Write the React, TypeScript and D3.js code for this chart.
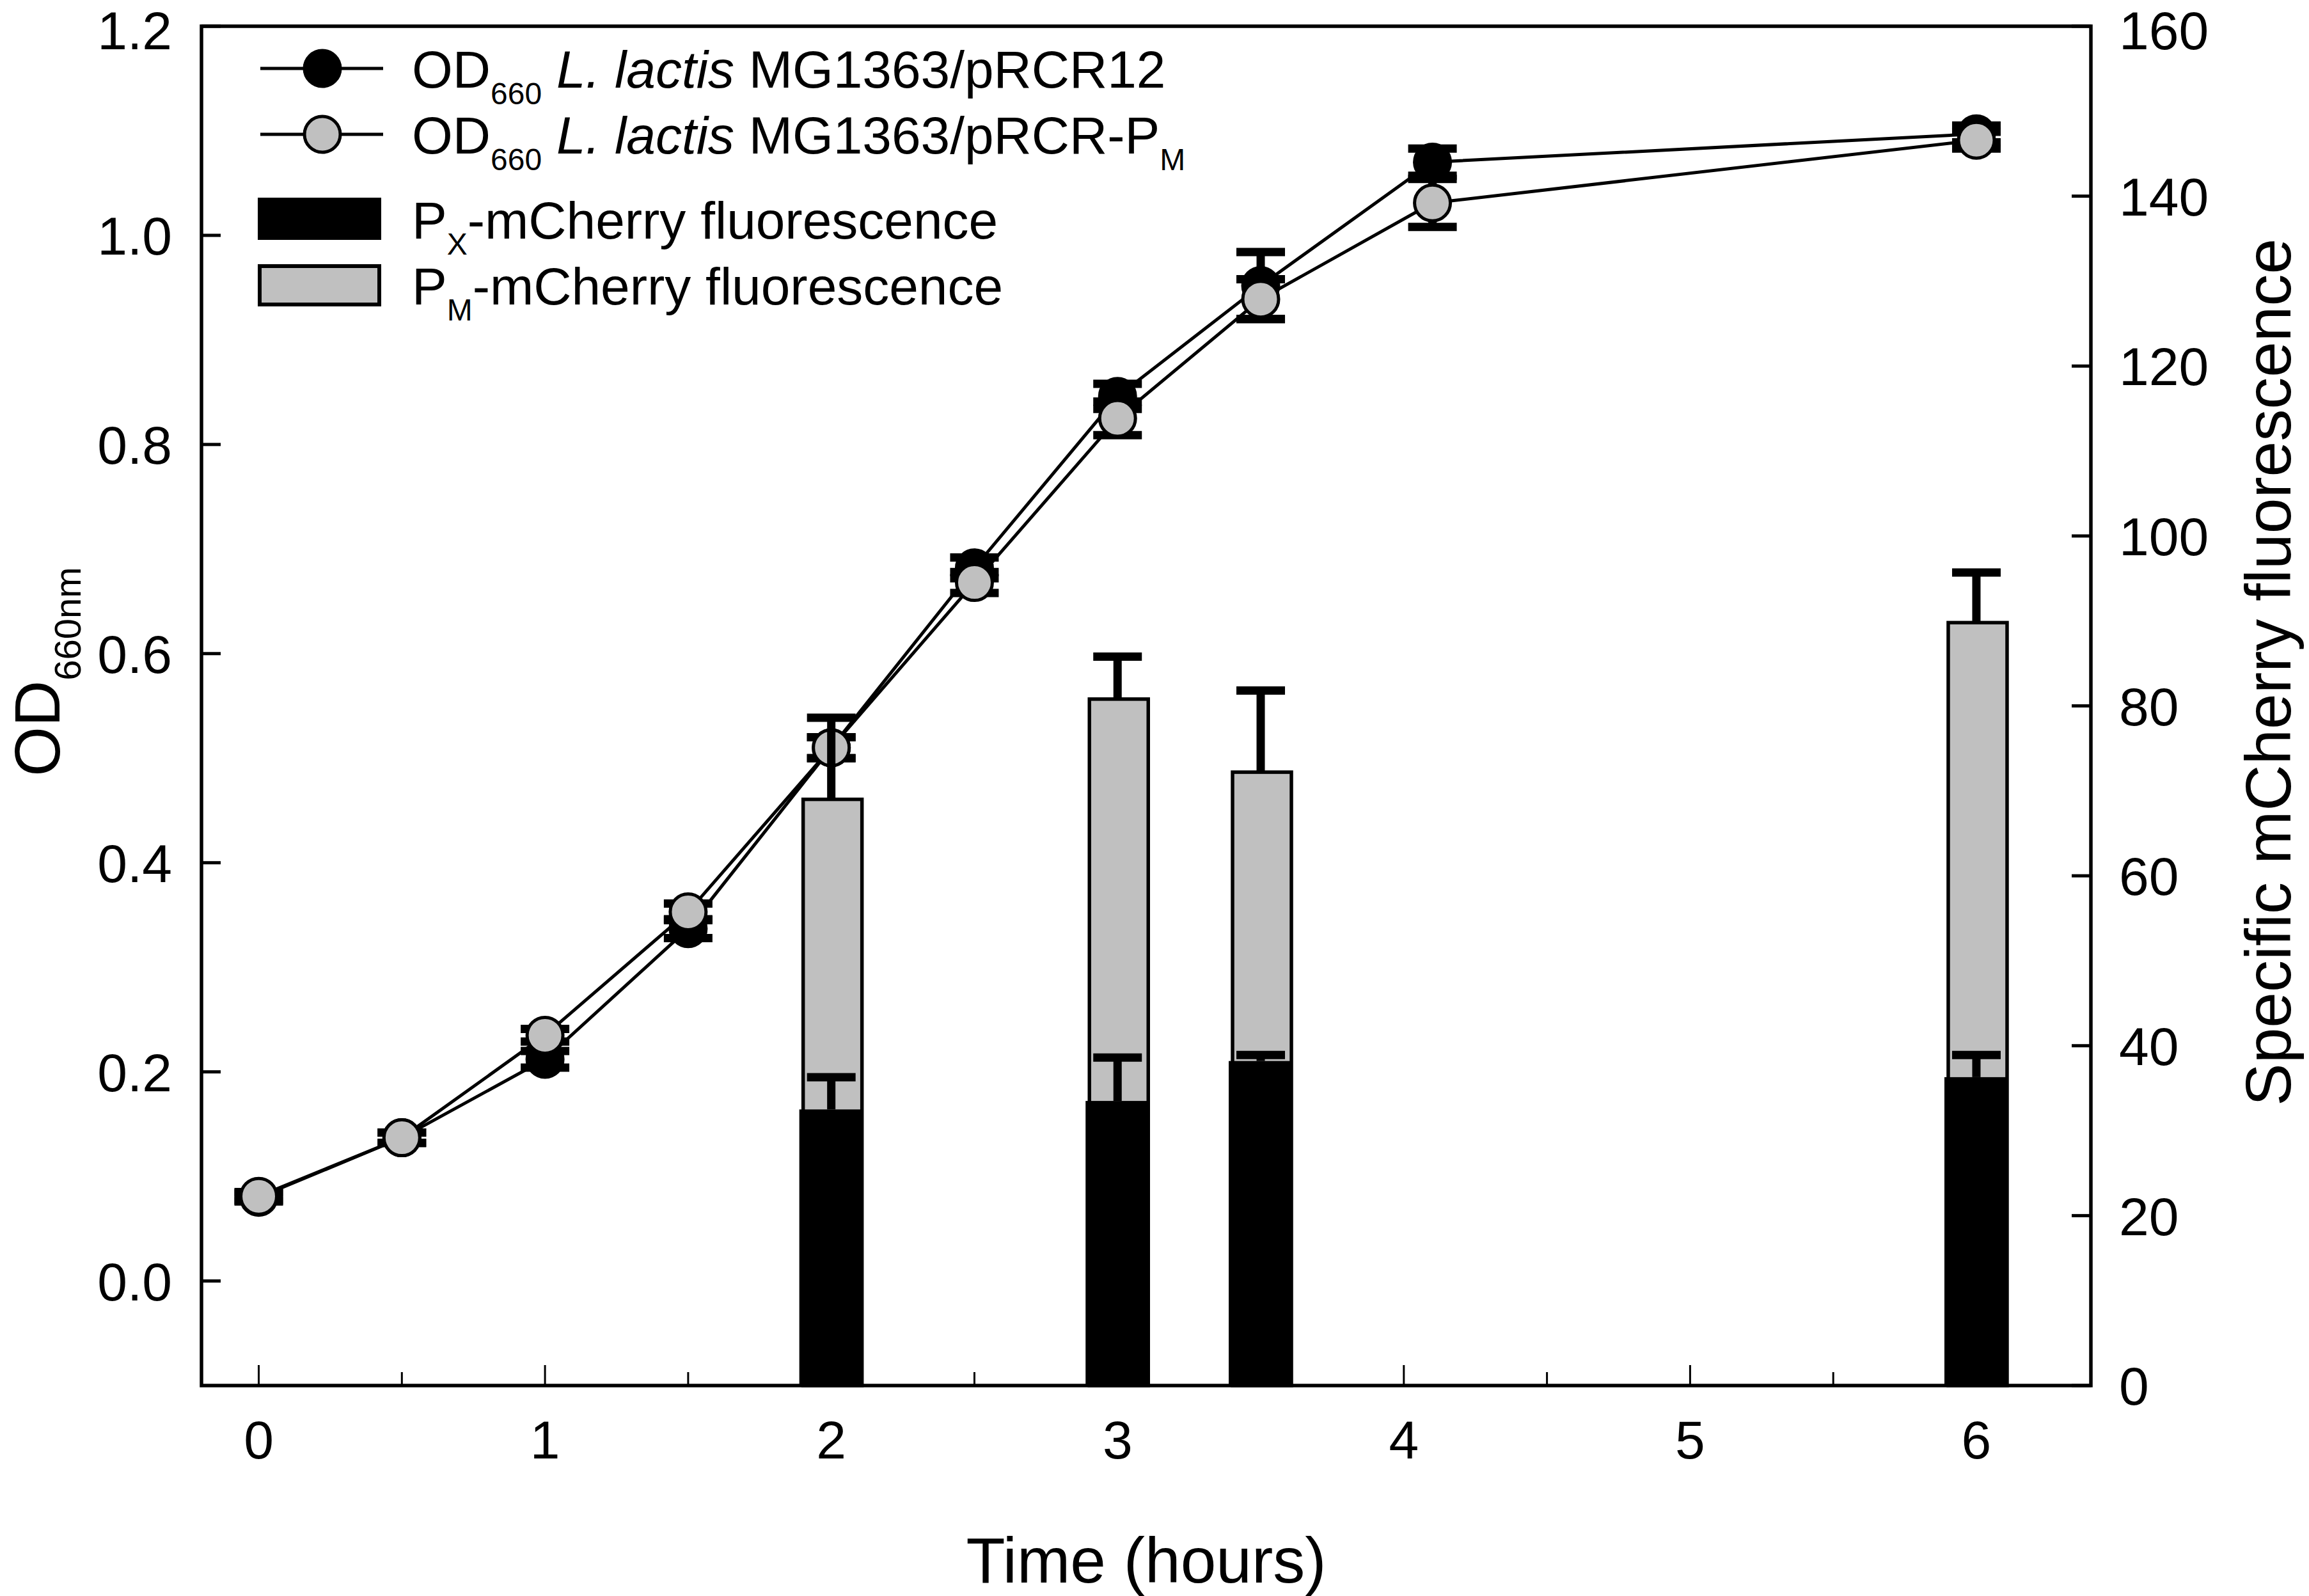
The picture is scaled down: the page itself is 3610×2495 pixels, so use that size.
import React from "react";
import * as d3 from "d3";

// ---- data ----
const times = [0, 0.5, 1, 1.5, 2, 2.5, 3, 3.5, 4.1, 6];
const odPRCR12 = [0.08, 0.137, 0.212, 0.337, 0.51, 0.682, 0.846, 0.952, 1.07, 1.097];
const odPRCR12Err = [0.004, 0.005, 0.008, 0.009, 0.01, 0.01, 0.012, 0.032, 0.013, 0.008];
const odPRCRPM = [0.081, 0.137, 0.235, 0.353, 0.51, 0.668, 0.825, 0.939, 1.031, 1.091];
const odPRCRPMErr = [0.004, 0.005, 0.006, 0.008, 0.01, 0.01, 0.016, 0.019, 0.023, 0.008];

const barTimes = [2, 3, 3.5, 6];
const pxFluor = [32.5, 33.5, 38.2, 36.3];
const pxFluorErr = [3.8, 5.1, 0.7, 2.6];
const pmFluor = [69.0, 80.8, 72.2, 89.8];
const pmFluorErr = [9.6, 5.0, 9.6, 5.9];

const xMajorTicks = [0, 1, 2, 3, 4, 5, 6];
const xMinorTicks = [0.5, 1.5, 2.5, 3.5, 4.5, 5.5];
const odTicks = [0, 0.2, 0.4, 0.6, 0.8, 1.0, 1.2];
const fluorTicks = [0, 20, 40, 60, 80, 100, 120, 140, 160];

const W = 3610;
const H = 2495;
const FONT = "'Liberation Sans', Arial, Helvetica, sans-serif";

const left = 315;
const right = 3269;
const top = 41;
const bottom = 2166;

const x = d3.scaleLinear().domain([-0.2, 6.4]).range([left, right]);
const yOD = d3.scaleLinear().domain([-0.1, 1.2]).range([bottom, top]);
const yF = d3.scaleLinear().domain([0, 160]).range([bottom, top]);

const R = 28;
const CAP = 38;
const ERR_W = 13;

// keep the top tick labels inside the page
const labelY = (y: number) => Math.max(y, 47);

type Series = { values: number[]; errs: number[]; fill: string };

const series: Series[] = [
    { values: odPRCR12, errs: odPRCR12Err, fill: "#000000" },
    { values: odPRCRPM, errs: odPRCRPMErr, fill: "#c0c0c0" },
];

// one-sided error bar (used on top of the bars)
const ErrBar: React.FC<{ cx: number; y0: number; y1: number }> = ({ cx, y0, y1 }) => (
    <g stroke="#000" strokeWidth={ERR_W}>
        <line x1={cx} x2={cx} y1={y0} y2={y1} />
        <line x1={cx - CAP} x2={cx + CAP} y1={y1} y2={y1} />
    </g>
);

const App: React.FC = () => {
    const line = d3
        .line<number>()
        .x((_, i) => x(times[i]))
        .y((d) => yOD(d));

    const pxW = 100;
    const pmW = 92;

    return (
        <svg
            width={W}
            height={H}
            style={{ position: "absolute", left: 0, top: 0, background: "#fff" }}
            fontFamily={FONT}
        >
            <rect x={0} y={0} width={W} height={H} fill="#fff" />

            {/* growth curves */}
            {series.map((s, si) => (
                <g key={si}>
                    {s.values.map((v, i) => (
                        <g key={i} stroke="#000" strokeWidth={ERR_W}>
                            <line x1={x(times[i])} x2={x(times[i])} y1={yOD(v - s.errs[i])} y2={yOD(v + s.errs[i])} />
                            <line x1={x(times[i]) - CAP} x2={x(times[i]) + CAP} y1={yOD(v + s.errs[i])} y2={yOD(v + s.errs[i])} />
                            <line x1={x(times[i]) - CAP} x2={x(times[i]) + CAP} y1={yOD(v - s.errs[i])} y2={yOD(v - s.errs[i])} />
                        </g>
                    ))}
                    <path d={line(s.values) ?? ""} fill="none" stroke="#000" strokeWidth={5} />
                    {s.values.map((v, i) => (
                        <circle key={i} cx={x(times[i])} cy={yOD(v)} r={R} fill={s.fill} stroke="#000" strokeWidth={5} />
                    ))}
                </g>
            ))}

            {/* fluorescence bars */}
            {barTimes.map((t, i) => (
                <g key={t}>
                    <rect
                        x={x(t) - pmW / 2 + 2}
                        y={yF(pmFluor[i])}
                        width={pmW}
                        height={yF(0) - yF(pmFluor[i])}
                        fill="#c0c0c0"
                        stroke="#000"
                        strokeWidth={5.5}
                    />
                    <ErrBar cx={x(t)} y0={yF(pmFluor[i])} y1={yF(pmFluor[i] + pmFluorErr[i])} />
                    <rect
                        x={x(t) - pxW / 2}
                        y={yF(pxFluor[i])}
                        width={pxW}
                        height={yF(0) - yF(pxFluor[i])}
                        fill="#000"
                    />
                    <ErrBar cx={x(t)} y0={yF(pxFluor[i])} y1={yF(pxFluor[i] + pxFluorErr[i])} />
                </g>
            ))}

            {/* x ticks (inward) */}
            {xMajorTicks.map((t) => (
                <line key={"M" + t} x1={x(t)} x2={x(t)} y1={bottom} y2={bottom - 32} stroke="#000" strokeWidth={3} />
            ))}
            {xMinorTicks.map((t) => (
                <line key={"m" + t} x1={x(t)} x2={x(t)} y1={bottom} y2={bottom - 21} stroke="#000" strokeWidth={3} />
            ))}
            {xMajorTicks.map((t) => (
                <text key={"l" + t} x={x(t)} y={bottom + 114} fontSize={84} textAnchor="middle">
                    {t}
                </text>
            ))}

            {/* left axis ticks */}
            {odTicks.map((t) => (
                <g key={"od" + t}>
                    <line x1={left} x2={left + 30} y1={yOD(t)} y2={yOD(t)} stroke="#000" strokeWidth={5} />
                    <text x={269} y={labelY(yOD(t))} dy="0.36em" fontSize={84} textAnchor="end">
                        {d3.format(".1f")(t)}
                    </text>
                </g>
            ))}

            {/* right axis ticks */}
            {fluorTicks.map((t) => (
                <g key={"f" + t}>
                    <line x1={right} x2={right - 30} y1={yF(t)} y2={yF(t)} stroke="#000" strokeWidth={5} />
                    <text x={3313} y={labelY(yF(t))} dy="0.36em" fontSize={84} textAnchor="start">
                        {t}
                    </text>
                </g>
            ))}

            {/* frame */}
            <rect x={left} y={top} width={right - left} height={bottom - top} fill="none" stroke="#000" strokeWidth={5.5} />

            {/* axis titles */}
            <text x={(left + right) / 2} y={2474} fontSize={100} textAnchor="middle">
                Time (hours)
            </text>
            <text transform="translate(93,1050) rotate(-90)" fontSize={100} textAnchor="middle">
                OD
                <tspan fontSize={58} dy={33}>660nm</tspan>
            </text>
            <text transform="translate(3581,1051) rotate(-90)" fontSize={100} textAnchor="middle">
                Specific mCherry fluorescence
            </text>

            {/* legend */}
            <g fontSize={82}>
                <line x1={407} x2={599} y1={107} y2={107} stroke="#000" strokeWidth={5} />
                <circle cx={504} cy={107} r={R} fill="#000" stroke="#000" strokeWidth={5} />
                <text x={644} y={137}>
                    OD
                    <tspan fontSize={48} dy={26}>660</tspan>
                    <tspan dy={-26}> </tspan>
                    <tspan fontStyle="italic">L. lactis</tspan>
                    <tspan> MG1363/pRCR12</tspan>
                </text>

                <line x1={407} x2={599} y1={210} y2={210} stroke="#000" strokeWidth={5} />
                <circle cx={504} cy={210} r={R} fill="#c0c0c0" stroke="#000" strokeWidth={5} />
                <text x={644} y={240}>
                    OD
                    <tspan fontSize={48} dy={26}>660</tspan>
                    <tspan dy={-26}> </tspan>
                    <tspan fontStyle="italic">L. lactis</tspan>
                    <tspan> MG1363/pRCR-P</tspan>
                    <tspan fontSize={48} dy={26}>M</tspan>
                </text>

                <rect x={403} y={309} width={193} height={66} fill="#000" />
                <text x={644} y={373}>
                    P
                    <tspan fontSize={48} dy={25}>X</tspan>
                    <tspan dy={-25}>-mCherry fluorescence</tspan>
                </text>

                <rect x={406} y={416} width={187} height={60} fill="#c0c0c0" stroke="#000" strokeWidth={6} />
                <text x={644} y={476}>
                    P
                    <tspan fontSize={48} dy={25}>M</tspan>
                    <tspan dy={-25}>-mCherry fluorescence</tspan>
                </text>
            </g>
        </svg>
    );
};

export default App;
